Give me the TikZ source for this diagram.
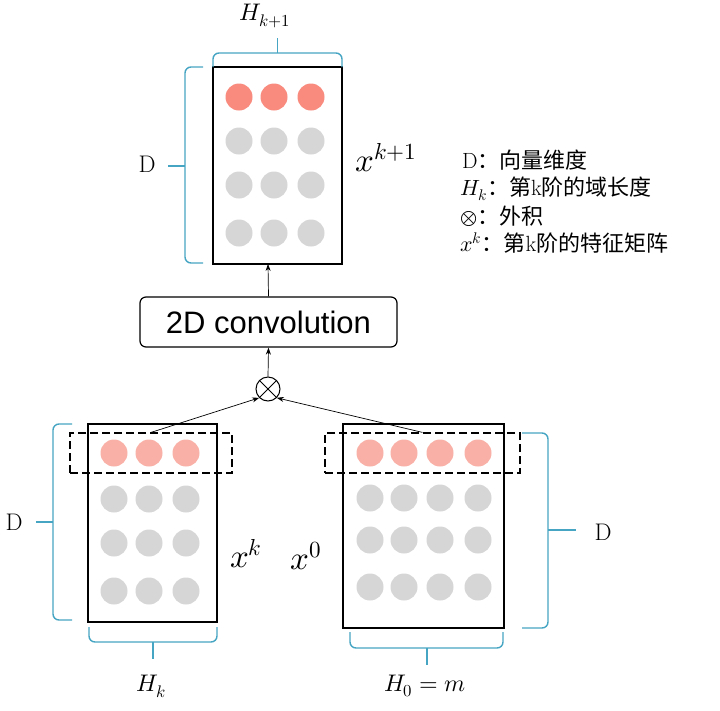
\documentclass[tikz,border=0pt]{standalone}
\usepackage{fontspec}
\usepackage{unicode-math}
\setmathfont{Latin Modern Math}
\setsansfont{Liberation Sans}
\newfontfamily\cjk{Noto Sans CJK SC}
\usetikzlibrary{arrows.meta}
\definecolor{braceblue}{RGB}{70,165,195}
\definecolor{redtop}{RGB}{249,138,126}
\definecolor{redbot}{RGB}{249,176,166}
\definecolor{dotgray}{RGB}{214,214,214}
\begin{document}
\begin{tikzpicture}[x=1pt,y=-1pt,
  box/.style={draw, line width=1.2pt, inner sep=0pt, fill=white},
  dashbox/.style={draw, dash pattern=on 8pt off 4pt, line width=1.2pt, inner sep=0pt},
  brc/.style={draw=braceblue, line width=1.4pt, rounded corners=6pt},
  arr/.style={-{Stealth[length=7pt,width=5pt]}, line width=0.7pt},
  lab/.style={inner sep=0pt, font=\fontsize{33}{36}\selectfont},
  sublab/.style={inner sep=0pt, font=\fontsize{24}{26}\selectfont},
  leg/.style={inner sep=0pt, anchor=west, font=\fontsize{22}{24}\selectfont}]
\useasboundingbox (0,0) rectangle (720,710);

% boxes
\node[box, minimum width=129pt, minimum height=197pt] (top) at (277.5,165.5) {};
\node[box, minimum width=129pt, minimum height=198pt] (left) at (152.5,523) {};
\node[box, minimum width=161pt, minimum height=204pt] (right) at (423.5,526) {};

% dots top
\foreach \x in {239,274,311} {\fill[redtop] (\x,97) circle (13.5);}
\foreach \y in {141,185,233} {\foreach \x in {239,274,311} {\fill[dotgray] (\x,\y) circle (13.5);}}
% dots left
\foreach \x in {114,149,186} {\fill[redbot] (\x,453) circle (13.5);}
\foreach \y in {499,543,591} {\foreach \x in {114,149,186} {\fill[dotgray] (\x,\y) circle (13.5);}}
% dots right
\foreach \x in {370,404,440,478} {\fill[redbot] (\x,453) circle (13.5);}
\foreach \y in {498,540,587} {\foreach \x in {370,404,440,478} {\fill[dotgray] (\x,\y) circle (13.5);}}

% dashed boxes
\node[dashbox, minimum width=162pt, minimum height=40pt] (dl) at (151,453) {};
\node[dashbox, minimum width=195pt, minimum height=40pt] (dr) at (422.5,453) {};

% conv and otimes
\node[draw, line width=1.2pt, rounded corners=6pt, minimum width=257pt, minimum height=50pt, inner sep=0pt,
  font=\sffamily\fontsize{31}{34}\selectfont] (conv) at (268.5,322) {2D convolution};
\node[draw, circle, line width=1pt, minimum size=24pt, inner sep=0pt] (ot) at (268,389) {};
\draw[line width=1pt] (ot.45) -- (ot.225) (ot.135) -- (ot.315);

% arrows
\draw[arr] (dl.north) -- (ot.south west);
\draw[arr] (dr.north) -- (ot.south east);
\draw[arr] (ot.north) -- (conv.south);
\draw[arr] (conv.north) -- (268,264);

% braces
\draw[brc] (213,67) -- (213,53) -- (342,53) -- (342,67);
\draw[brc] (277.5,53) -- (277.5,38);
\draw[brc] (203,67) -- (185,67) -- (185,263) -- (203,263);
\draw[brc] (185,166) -- (168,166);

\draw[brc] (72,424) -- (53,424) -- (53,620) -- (72,620);
\draw[brc] (53,522) -- (36,522);
\draw[brc] (89,627) -- (89,642) -- (217,642) -- (217,627);
\draw[brc] (153,642) -- (153,659);

\draw[brc] (522,433) -- (548,433) -- (548,628) -- (522,628);
\draw[brc] (548,530) -- (576,530);
\draw[brc] (350,632) -- (350,648) -- (503,648) -- (503,632);
\draw[brc] (427,648) -- (427,665);

% labels
\node[sublab] (hk1) at (265,16) {$H_{k+1}$};
\node[sublab] (d1) at (147,164) {D};
\node[lab] (xk1) at (386,158) {$x^{k+1}$};
\node[sublab] (d2) at (14,522) {D};
\node[lab] (xk) at (246,554) {$x^{k}$};
\node[lab] (x0) at (306,556) {$x^{0}$};
\node[sublab] (hk) at (151,686) {$H_k$};
\node[sublab] (h0) at (425,686) {$H_0=m$};
\node[sublab] (d3) at (603,532) {D};

% legend
\node[leg] (leg1) at (462,160) {D{\cjk ：向量维度}};
\node[leg] (leg2) at (460,189) {$H_k${\cjk ：第}k{\cjk 阶的域长度}};
\node[leg] (leg3) at (460,216) {$\otimes${\cjk ：外积}};
\node[leg] (leg4) at (460,243) {$x^k${\cjk ：第}k{\cjk 阶的特征矩阵}};
\end{tikzpicture}
\end{document}
